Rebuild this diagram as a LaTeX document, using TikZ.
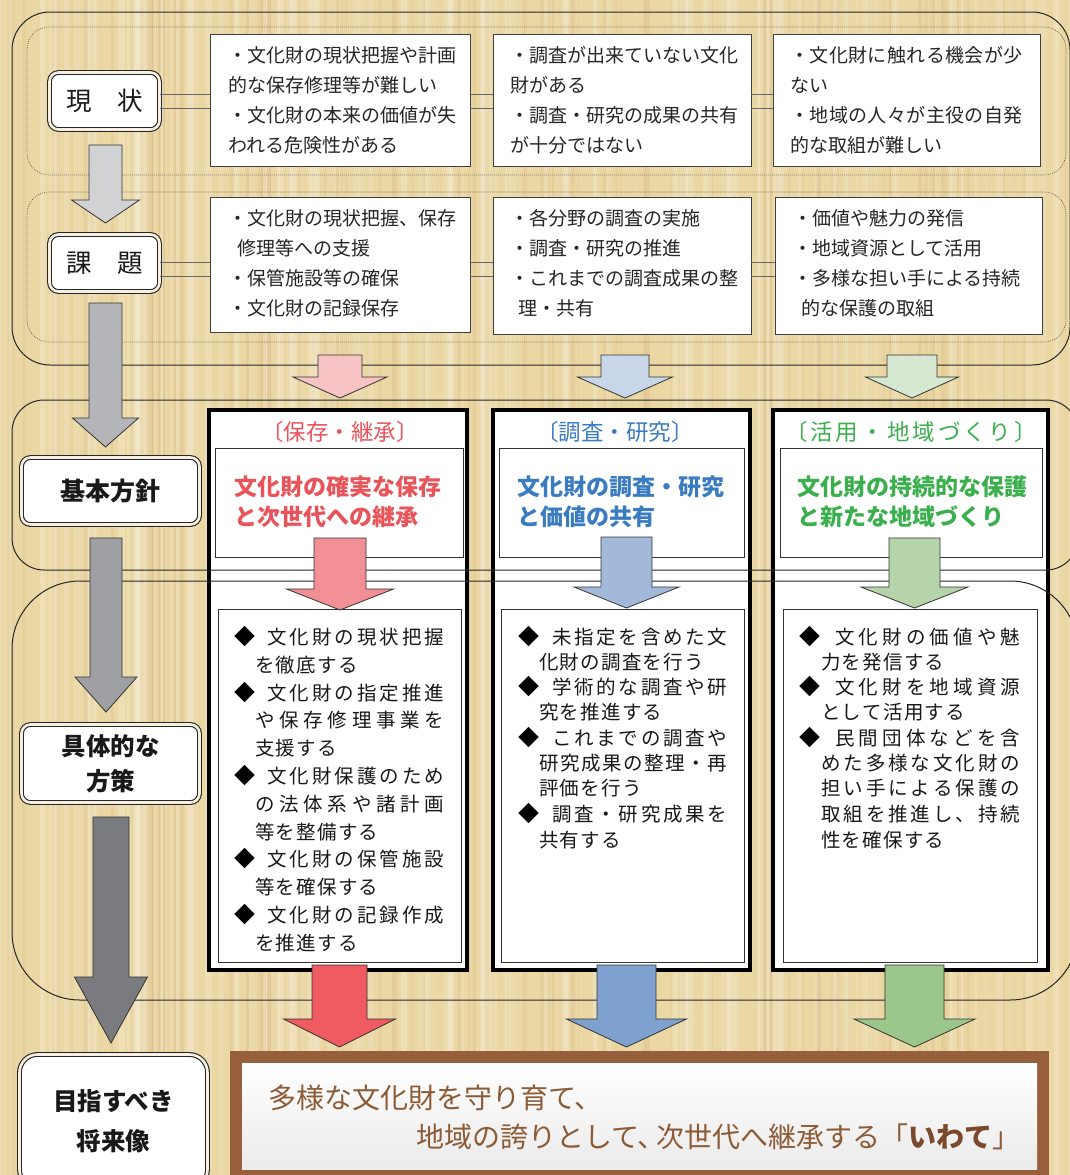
\documentclass[tikz,border=0pt]{standalone}
\usepackage{fontspec}
\setmainfont{Noto Sans CJK JP}
\usetikzlibrary{calc}
\definecolor{bg}{HTML}{EAD7A4}
\definecolor{labgap}{HTML}{F6F0E2}
\definecolor{cred}{HTML}{E9545B}
\definecolor{cblue}{HTML}{3B7CC1}
\definecolor{cgreen}{HTML}{3BAF4E}
\definecolor{gA}{HTML}{D1D2D4}
\definecolor{gB}{HTML}{B4B5B8}
\definecolor{gC}{HTML}{9EA0A3}
\definecolor{gD}{HTML}{7A7B7E}
\definecolor{pkA}{HTML}{F7C3C5}
\definecolor{blA}{HTML}{C8D6EA}
\definecolor{grA}{HTML}{D6E8D2}
\definecolor{pkB}{HTML}{F29095}
\definecolor{blB}{HTML}{A3B9DA}
\definecolor{grB}{HTML}{B6D4AA}
\definecolor{pkC}{HTML}{EF5B60}
\definecolor{blC}{HTML}{7EA1D0}
\definecolor{grC}{HTML}{9BC78B}
\definecolor{brframe}{HTML}{975F3B}
\definecolor{brtext}{HTML}{8C5B36}
\definecolor{brbold}{HTML}{7A4A2A}
\ExplSyntaxOn
\NewDocumentCommand \jline { m m } { \makebox[#1][s]{ \tl_map_inline:nn {#2} { ##1 \hfill } \unskip } }
\NewDocumentCommand \tline { m m } { \tl_map_inline:nn {#2} { ##1 \hspace{#1} } \unskip }
\ExplSyntaxOff
\newcommand\blkarrow[7]{%
  \draw[arrowline, fill=#1] ({#2-#3},#5) -- ({#2+#3},#5) -- ({#2+#3},#6) -- ({#2+#4},#6) -- (#2,#7) -- ({#2-#4},#6) -- ({#2-#3},#6) -- cycle;}
\tikzset{
  panel/.style={draw=black, line width=4pt, fill=white, inner sep=0},
  inbox/.style={draw=black!80, line width=0.9pt, fill=white, inner sep=0},
  rowbox/.style={draw=black!75, line width=0.8pt, fill=white, inner sep=0},
  labbox/.style={draw=black!85, line width=1.1pt, double=labgap, double distance=2.6pt, fill=white, rounded corners=9pt, inner sep=0, align=center, text=black!90},
  region/.style={draw=black!85, line width=1pt},
  dotreg/.style={draw=black!70, line width=0.7pt, dash pattern=on 0.7pt off 1.3pt},
  conn/.style={draw=black!60, line width=0.8pt},
  arrowline/.style={draw=black!80, line width=0.8pt},
  rt/.style={anchor=west, inner sep=0, font=\fontsize{19}{19}\selectfont, text=black!85},
  bt/.style={anchor=west, inner sep=0, font=\fontsize{19.5}{19.5}\selectfont, text=black!90},
  dm/.style={anchor=center, inner sep=0, font=\fontsize{21}{21}\selectfont, text=black},
  hd/.style={anchor=center, inner sep=0, font=\fontsize{22.5}{22.5}\selectfont},
  bh/.style={anchor=west, inner sep=0, font=\fontsize{23}{23}\selectfont\bfseries},
  bn/.style={inner sep=0, font=\fontsize{28}{28}\selectfont, text=brtext},
}
\begin{document}
\begin{tikzpicture}[x=1pt,y=-1pt]
\useasboundingbox (0,0) rectangle (1070,1175);
\fill[bg] (0,0) rectangle (1070,1175);
\pgfmathsetseed{7}
\foreach \i in {1,...,140}{
  \pgfmathsetmacro\xx{rnd*1070}
  \pgfmathsetmacro\ww{1+rnd*7}
  \pgfmathsetmacro\oo{0.06+rnd*0.14}
  \fill[white, opacity=\oo] (\xx,0) rectangle (\xx+\ww,1175);
}
\foreach \i in {1,...,90}{
  \pgfmathsetmacro\xx{rnd*1070}
  \pgfmathsetmacro\ww{1+rnd*4}
  \pgfmathsetmacro\oo{0.04+rnd*0.08}
  \fill[brown, opacity=\oo] (\xx,0) rectangle (\xx+\ww,1175);
}

% ---------- column panels ----------
\node[panel, minimum width=258, minimum height=560] (p1) at (338,690) {};
\node[panel, minimum width=257, minimum height=560] (p2) at (621.5,690) {};
\node[panel, minimum width=275, minimum height=560] (p3) at (910.5,690) {};
\node[inbox, minimum width=248, minimum height=109] (t1) at (339,502.5) {};
\node[inbox, minimum width=245, minimum height=109] (t2) at (621.5,502.5) {};
\node[inbox, minimum width=262, minimum height=109] (t3) at (911,502.5) {};
\node[inbox, minimum width=243, minimum height=353] (b1) at (339.5,785.5) {};
\node[inbox, minimum width=243, minimum height=353] (b2) at (622.5,785.5) {};
\node[inbox, minimum width=254, minimum height=353] (b3) at (910,785.5) {};

% ---------- regions ----------
\draw[region, rounded corners=38] (12,12) rectangle (1070,365);
\draw[region, rounded corners=32] (12,400) rectangle (1078,570);
\draw[region, rounded corners=68] (12,581) rectangle (1078,1000);
\draw[dotreg, rounded corners=22] (27,27) rectangle (1066,175);
\draw[dotreg, rounded corners=22] (27,192) rectangle (1066,342);

% ---------- row boxes ----------
\node[rowbox, minimum width=260, minimum height=132] (r1a) at (340,100) {};
\node[rowbox, minimum width=258, minimum height=132] (r1b) at (622,100) {};
\node[rowbox, minimum width=267, minimum height=132] (r1c) at (906.5,100) {};
\node[rowbox, minimum width=260, minimum height=135] (r2a) at (340,264.5) {};
\node[rowbox, minimum width=258, minimum height=137] (r2b) at (622,265.5) {};
\node[rowbox, minimum width=267, minimum height=137] (r2c) at (908.5,265.5) {};

% ---------- label boxes ----------
\node[labbox, minimum width=110, minimum height=57, font=\fontsize{25.5}{25.5}\selectfont] (lab1) at (104.5,101) {現　状};
\node[labbox, minimum width=110, minimum height=57, font=\fontsize{25.5}{25.5}\selectfont] (lab2) at (104.5,263) {課　題};
\node[labbox, minimum width=178, minimum height=67, font=\fontsize{25}{25}\selectfont\bfseries] (lab3) at (110.5,491) {基本方針};
\node[labbox, minimum width=178, minimum height=78, font=\fontsize{24.5}{35}\selectfont\bfseries] (lab4) at (110.5,763.5) {具体的な\\方策};
\node[labbox, minimum width=188, minimum height=133, font=\fontsize{24.5}{40}\selectfont\bfseries, rounded corners=18pt] (lab5) at (113.5,1121) {目指すべき\\将来像};

% ---------- connectors ----------
\coordinate (k1u) at (0,94);
\coordinate (k1d) at (0,108);
\coordinate (k2u) at (0,262);
\coordinate (k2d) at (0,276);
\foreach \k in {k1u,k1d}{
  \draw[conn] (lab1.east |- \k) -- (r1a.west |- \k);
  \draw[conn] (r1a.east |- \k) -- (r1b.west |- \k);
  \draw[conn] (r1b.east |- \k) -- (r1c.west |- \k);
}
\foreach \k in {k2u,k2d}{
  \draw[conn] (lab2.east |- \k) -- (r2a.west |- \k);
  \draw[conn] (r2a.east |- \k) -- (r2b.west |- \k);
  \draw[conn] (r2b.east |- \k) -- (r2c.west |- \k);
}

% ---------- arrows ----------
\blkarrow{gA}{105.5}{16.5}{34}{145}{200}{223}
\blkarrow{gB}{105.5}{16.5}{33}{303}{418}{447}
\blkarrow{gC}{106}{16}{31}{538}{677}{712}
\blkarrow{gD}{111}{18}{36.5}{817}{977}{1043}
\blkarrow{pkA}{340}{22}{47}{355}{377}{398}
\blkarrow{blA}{625}{24}{47.5}{355}{377}{398}
\blkarrow{grA}{912}{25}{46.5}{355}{377}{398}
\blkarrow{pkB}{340}{26}{53.5}{538}{589}{610}
\blkarrow{blB}{626.5}{25.5}{52.5}{537}{587}{608}
\blkarrow{grB}{914.5}{25.5}{53.5}{538}{587}{608}
\blkarrow{pkC}{339.5}{27.5}{56}{965}{1019}{1047}
\blkarrow{blC}{626.5}{29.5}{60}{965}{1019}{1047}
\blkarrow{grC}{914.5}{29.5}{60.5}{965}{1019}{1047}

% ---------- row 1 text ----------
\node[rt] (a11) at (228,55) {・文化財の現状把握や計画};
\node[rt] (a12) at (228,85) {的な保存修理等が難しい};
\node[rt] (a13) at (228,115) {・文化財の本来の価値が失};
\node[rt] (a14) at (228,145) {われる危険性がある};
\node[rt] (b11) at (510,55) {・調査が出来ていない文化};
\node[rt] (b12) at (510,85) {財がある};
\node[rt] (b13) at (510,115) {・調査・研究の成果の共有};
\node[rt] (b14) at (510,145) {が十分ではない};
\node[rt] (c11) at (790,55) {\tline{0.4pt}{・文化財に触れる機会が少}};
\node[rt] (c12) at (790,85) {ない};
\node[rt] (c13) at (790,115) {\tline{0.4pt}{・地域の人々が主役の自発}};
\node[rt] (c14) at (790,145) {的な取組が難しい};

% ---------- row 2 text ----------
\node[rt] (a21) at (228,218) {・文化財の現状把握、保存};
\node[rt] (a22) at (237,248) {修理等への支援};
\node[rt] (a23) at (228,278) {・保管施設等の確保};
\node[rt] (a24) at (228,308) {・文化財の記録保存};
\node[rt] (b21) at (510,218) {・各分野の調査の実施};
\node[rt] (b22) at (510,248) {・調査・研究の推進};
\node[rt] (b23) at (510,278) {・これまでの調査成果の整};
\node[rt] (b24) at (518,308) {理・共有};
\node[rt] (c21) at (793,218) {・価値や魅力の発信};
\node[rt] (c22) at (793,248) {・地域資源として活用};
\node[rt] (c23) at (793,278) {・多様な担い手による持続};
\node[rt] (c24) at (801,308) {的な保護の取組};

% ---------- column headers ----------
\node[hd, text=cred] (h1) at (340,432) {〔保存・継承〕};
\node[hd, text=cblue] (h2) at (615,432) {〔調査・研究〕};
\node[hd, text=cgreen] (h3) at (911,432) {\tline{3pt}{〔活用・地域づくり〕}};
\node[bh, text=cred] (m11) at (234,487) {文化財の確実な保存};
\node[bh, text=cred] (m12) at (234,517) {と次世代への継承};
\node[bh, text=cblue] (m21) at (517,487) {文化財の調査・研究};
\node[bh, text=cblue] (m22) at (517,517) {と価値の共有};
\node[bh, text=cgreen] (m31) at (797,487) {文化財の持続的な保護};
\node[bh, text=cgreen] (m32) at (797,517) {と新たな地域づくり};

% ---------- column 1 measures ----------
\node[dm] (d11) at (245,637) {◆};
\node[bt] (e1a) at (267,637) {\jline{177pt}{文化財の現状把握}};
\node[bt] (e1b) at (255,665) {\tline{1.2pt}{を徹底する}};
\node[dm] (d12) at (245,693) {◆};
\node[bt] (e1c) at (267,693) {\jline{177pt}{文化財の指定推進}};
\node[bt] (e1d) at (255,720) {\jline{189pt}{や保存修理事業を}};
\node[bt] (e1e) at (255,748) {\tline{1.2pt}{支援する}};
\node[dm] (d13) at (245,776) {◆};
\node[bt] (e1f) at (267,776) {\jline{177pt}{文化財保護のため}};
\node[bt] (e1g) at (255,804) {\jline{189pt}{の法体系や諸計画}};
\node[bt] (e1h) at (255,832) {\tline{1.2pt}{等を整備する}};
\node[dm] (d14) at (245,859) {◆};
\node[bt] (e1i) at (267,859) {\jline{177pt}{文化財の保管施設}};
\node[bt] (e1j) at (255,887) {\tline{1.2pt}{等を確保する}};
\node[dm] (d15) at (245,915) {◆};
\node[bt] (e1k) at (267,915) {\jline{177pt}{文化財の記録作成}};
\node[bt] (e1l) at (255,943) {\tline{1.2pt}{を推進する}};

% ---------- column 2 measures ----------
\node[dm] (d21) at (529,637) {◆};
\node[bt] (e2a) at (552,637) {\jline{175pt}{未指定を含めた文}};
\node[bt] (e2b) at (539,662) {\tline{1.2pt}{化財の調査を行う}};
\node[dm] (d22) at (529,687) {◆};
\node[bt] (e2c) at (552,687) {\jline{175pt}{学術的な調査や研}};
\node[bt] (e2d) at (539,712) {\tline{1.2pt}{究を推進する}};
\node[dm] (d23) at (529,738) {◆};
\node[bt] (e2e) at (552,738) {\jline{175pt}{これまでの調査や}};
\node[bt] (e2f) at (539,763) {\jline{188pt}{研究成果の整理・再}};
\node[bt] (e2g) at (539,788) {\tline{1.2pt}{評価を行う}};
\node[dm] (d24) at (529,814) {◆};
\node[bt] (e2h) at (552,814) {\jline{175pt}{調査・研究成果を}};
\node[bt] (e2i) at (539,840) {\tline{1.2pt}{共有する}};

% ---------- column 3 measures ----------
\node[dm] (d31) at (810,637) {◆};
\node[bt] (e3a) at (835,637) {\jline{185pt}{文化財の価値や魅}};
\node[bt] (e3b) at (821,662) {\tline{1.2pt}{力を発信する}};
\node[dm] (d32) at (810,687) {◆};
\node[bt] (e3c) at (835,687) {\jline{185pt}{文化財を地域資源}};
\node[bt] (e3d) at (821,712) {\tline{1.2pt}{として活用する}};
\node[dm] (d33) at (810,738) {◆};
\node[bt] (e3e) at (835,738) {\jline{185pt}{民間団体などを含}};
\node[bt] (e3f) at (821,763) {\jline{199pt}{めた多様な文化財の}};
\node[bt] (e3g) at (821,788) {\jline{199pt}{担い手による保護の}};
\node[bt] (e3h) at (821,814) {\jline{199pt}{取組を推進し、持続}};
\node[bt] (e3i) at (821,840) {\tline{1.2pt}{性を確保する}};

% ---------- goal banner ----------
\node[fill=brframe, inner sep=0, minimum width=819, minimum height=134] (ban) at (639.5,1118) {};
\node[top color=white, bottom color=black!8!white, inner sep=0, minimum width=795, minimum height=106] (banin) at (639.5,1116) {};
\node[bn, anchor=west] (g1) at (268,1098) {多様な文化財を守り育て、};
\node[bn, anchor=east] (g2) at (1021,1137) {地域の誇りとして、\kern-9pt次世代へ継承する「{\bfseries\color{brbold}いわて}」};
\end{tikzpicture}
\end{document}
